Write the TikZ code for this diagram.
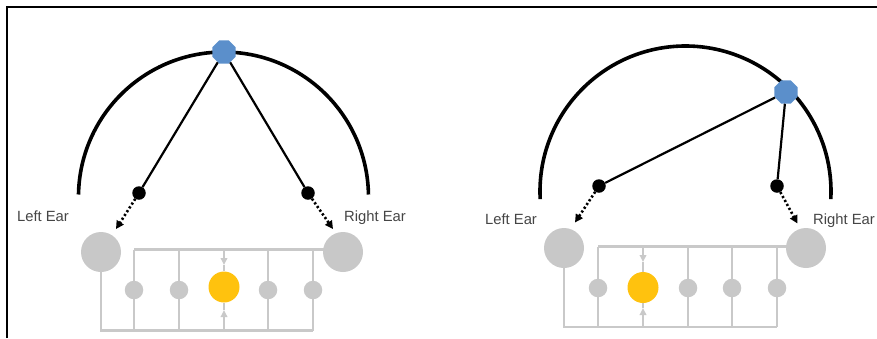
\documentclass[tikz,border=0pt]{standalone}
\usepackage{fontspec}
\setmainfont{Liberation Sans}
\usetikzlibrary{arrows.meta,shapes.geometric,backgrounds}
\definecolor{srcblue}{HTML}{5B8FCB}
\definecolor{earfill}{HTML}{C8C8C8}
\definecolor{wiregray}{HTML}{C9C9C9}
\definecolor{hotyellow}{HTML}{FFC20E}
\definecolor{labelgray}{HTML}{454545}
\tikzset{
  frameline/.style={line width=1.5pt,black},
  headarc/.style={line width=3.6pt,black},
  ray/.style={line width=2.2pt,black},
  dotarrow/.style={line width=2.6pt,black,dash pattern=on 2.2pt off 2.3pt,
    -{Triangle[length=8pt,width=8pt]}},
  srcdot/.style={regular polygon,regular polygon sides=8,minimum size=25pt,
    inner sep=0pt,fill=srcblue,draw=none},
  blackdot/.style={circle,fill=black,minimum size=13.5pt,inner sep=0pt},
  bigdot/.style={circle,fill=earfill,minimum size=40pt,inner sep=0pt},
  smalldot/.style={circle,fill=earfill,minimum size=18.5pt,inner sep=0pt},
  hotdot/.style={circle,fill=hotyellow,minimum size=31pt,inner sep=0pt},
  wire/.style={line width=2.3pt,wiregray},
  wirearrow/.style={wire,-{Triangle[length=7pt,width=6.5pt]}},
  ear/.style={font=\fontsize{14.8}{16}\selectfont,text=labelgray,inner sep=0pt,anchor=base},
}
\begin{document}
\begin{tikzpicture}[x=1pt,y=-1pt]
\useasboundingbox (0,0) rectangle (877,338);

% frame
\draw[frameline] (7,338) -- (7,7) -- (877,7);

% ---------- left panel: source straight ahead ----------
\draw[headarc] (78.5,194.5) arc[start angle=181,end angle=359,radius=145];

\node[srcdot] (s1) at (224,52) {};
\node[blackdot] (k1) at (139,193) {};
\node[blackdot] (k2) at (308,193) {};
\coordinate (e1) at (116,229);
\coordinate (e2) at (333,229);
\draw[ray] (s1) -- (k1);
\draw[ray] (s1) -- (k2);
\draw[dotarrow] (k1) -- (e1);
\draw[dotarrow] (k2) -- (e2);

\node[ear] (tl1) at (43,221) {Left Ear};
\node[ear] (tr1) at (375,221) {Right Ear};

\node[bigdot] (L1) at (101,252) {};
\node[bigdot] (R1) at (343,252) {};
\node[smalldot] (p1) at (134,290) {};
\node[smalldot] (p2) at (179,290) {};
\node[hotdot]   (Y1) at (224,287) {};
\node[smalldot] (p4) at (268,290) {};
\node[smalldot] (p5) at (313,290) {};
\coordinate (t1) at (224,249.5);
\coordinate (b1) at (224,330.5);
\coordinate (ta1) at (224,265);
\coordinate (ba1) at (224,310);

\begin{scope}[on background layer]
  \draw[wire] (R1 |- t1) -- (p1 |- t1);
  \foreach \p in {p1,p2,p4,p5} \draw[wire] (\p |- t1) -- (\p |- b1);
  \draw[wire] (L1) -- (L1 |- b1) -- (p5 |- b1);
  \draw[wirearrow] (t1) -- (ta1);
  \draw[wire] (ta1) -- (Y1);
  \draw[wirearrow] (b1) -- (ba1);
  \draw[wire] (ba1) -- (Y1);
\end{scope}

% ---------- right panel: source off to the right ----------
\draw[headarc] (540.2,199.1) arc[start angle=177,end angle=363,radius=145.5];

\node[srcdot] (s2) at (786,92) {};
\node[blackdot] (k3) at (599,186) {};
\node[blackdot] (k4) at (777,186) {};
\coordinate (e3) at (575,222.5);
\coordinate (e4) at (797.5,223.5);
\draw[ray] (s2) -- (k3);
\draw[ray] (s2) -- (k4);
\draw[dotarrow] (k3) -- (e3);
\draw[dotarrow] (k4) -- (e4);

\node[ear] (tl2) at (511,224) {Left Ear};
\node[ear] (tr2) at (844,224) {Right Ear};

\node[bigdot] (L2) at (564,248) {};
\node[bigdot] (R2) at (806,248) {};
\node[smalldot] (q1) at (598,288) {};
\node[hotdot]   (Y2) at (643,287.5) {};
\node[smalldot] (q3) at (688,288) {};
\node[smalldot] (q4) at (732,288) {};
\node[smalldot] (q5) at (777,288) {};
\coordinate (t2) at (643,246.5);
\coordinate (b2) at (643,327);
\coordinate (ta2) at (643,262);
\coordinate (ba2) at (643,308);

\begin{scope}[on background layer]
  \draw[wire] (R2 |- t2) -- (q1 |- t2);
  \foreach \q in {q1,q3,q4,q5} \draw[wire] (\q |- t2) -- (\q |- b2);
  \draw[wire] (L2) -- (L2 |- b2) -- (q5 |- b2);
  \draw[wirearrow] (t2) -- (ta2);
  \draw[wire] (ta2) -- (Y2);
  \draw[wirearrow] (b2) -- (ba2);
  \draw[wire] (ba2) -- (Y2);
\end{scope}
\end{tikzpicture}
\end{document}
